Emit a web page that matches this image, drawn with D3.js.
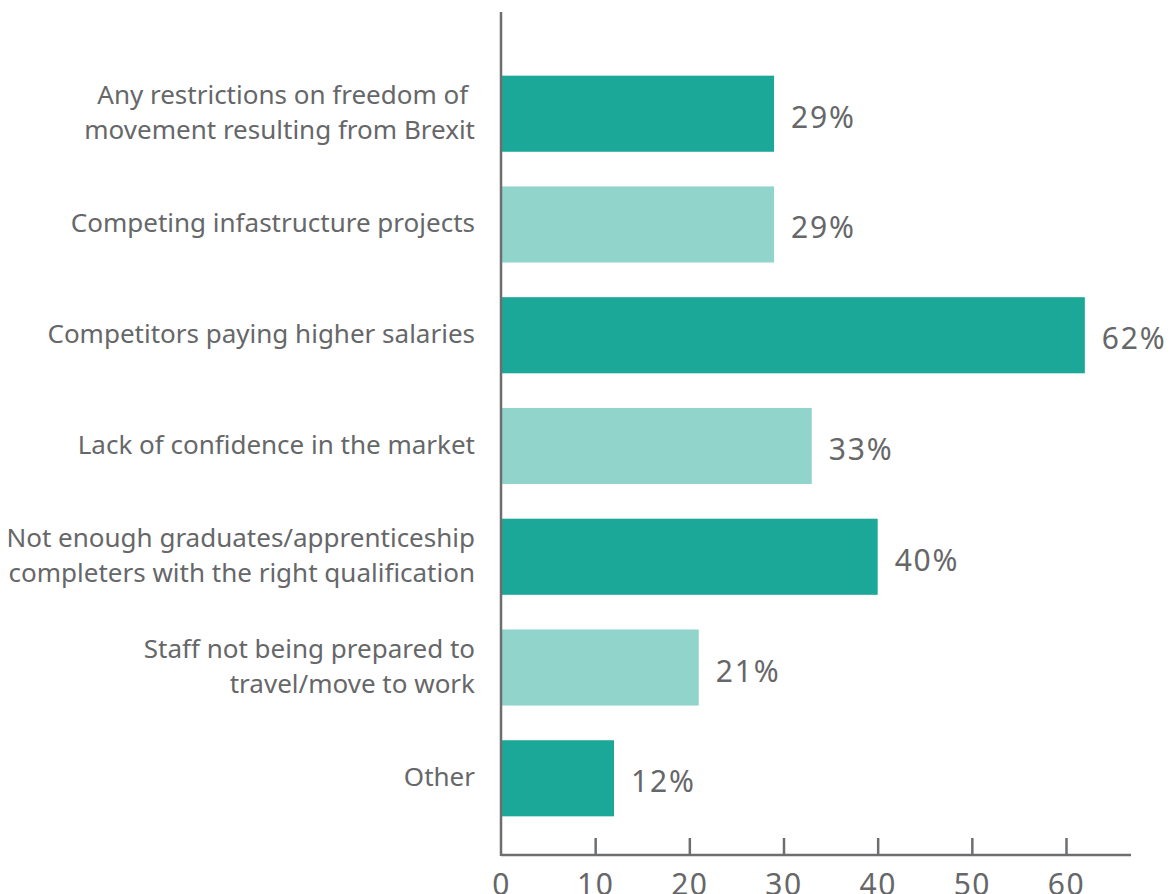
<!DOCTYPE html>
<html><head><meta charset="utf-8">
<script src="https://cdn.jsdelivr.net/npm/d3@7"></script>
<style>body{margin:0;background:#fff}svg{display:block}</style>
</head><body>
<script>
const categories = [
  ["Any restrictions on freedom of\u00a0", "movement resulting from Brexit"],
  ["Competing infastructure projects"],
  ["Competitors paying higher salaries"],
  ["Lack of confidence in the market"],
  ["Not enough graduates/apprenticeship", "completers with the right qualification"],
  ["Staff not being prepared to", "travel/move to work"],
  ["Other"]
];
const values = [29, 29, 62, 33, 40, 21, 12];
const tickValues = [0, 10, 20, 30, 40, 50, 60];
const colors = ["#1ba898", "#90d4cb"];

const W = 1172, H = 894;
const svg = d3.select("body").append("svg").attr("width", W).attr("height", H);
const font = "'Noto Sans', sans-serif";
const textColor = "#666769";

const x = d3.scaleLinear().domain([0, 60]).range([501, 1066]);
const y = d3.scaleBand().domain(d3.range(categories.length)).range([41, 851]).paddingInner(0.313).paddingOuter(0.313);

svg.selectAll("rect.bar").data(values).join("rect")
  .attr("class", "bar")
  .attr("x", x(0))
  .attr("y", (d, i) => y(i))
  .attr("width", d => x(d) - x(0))
  .attr("height", y.bandwidth())
  .attr("fill", (d, i) => colors[i % 2]);

svg.selectAll("text.val").data(values).join("text")
  .attr("class", "val")
  .attr("x", d => x(d) + 17)
  .attr("y", (d, i) => y(i) + y.bandwidth() / 2 + 14)
  .attr("font-family", font).attr("font-size", 30).attr("letter-spacing", 1.8).attr("fill", textColor)
  .text(d => d + "%");

const lh = 35;
categories.forEach((lines, i) => {
  const cy = y(i) + y.bandwidth() / 2;
  const t = svg.append("text")
    .attr("text-anchor", "end")
    .attr("font-family", font).attr("font-size", 26).attr("fill", textColor);
  lines.forEach((ln, j) => {
    t.append("tspan").attr("x", 475)
      .attr("y", cy + (j - (lines.length - 1) / 2) * lh + 8)
      .text(ln);
  });
});

// axes
const axisColor = "#6d6e70";
const xAxis = d3.axisBottom(x).tickValues(tickValues).tickSize(0).tickPadding(0);
const gx = svg.append("g").attr("transform", "translate(0,855)").call(xAxis);
gx.select(".domain").remove();
gx.selectAll(".tick text").attr("font-family", font).attr("font-size", 30).attr("letter-spacing", 1.5).attr("fill", textColor).attr("dy", null).attr("y", 40);
gx.selectAll(".tick").filter(d => d !== 0).append("line").attr("y1", 0).attr("y2", -17).attr("stroke", axisColor).attr("stroke-width", 2.5);
svg.append("line").attr("x1", 501).attr("x2", 1131).attr("y1", 855).attr("y2", 855).attr("stroke", axisColor).attr("stroke-width", 2.5);
svg.append("line").attr("x1", 501).attr("x2", 501).attr("y1", 12).attr("y2", 856).attr("stroke", axisColor).attr("stroke-width", 2.5);
</script>
</body></html>
